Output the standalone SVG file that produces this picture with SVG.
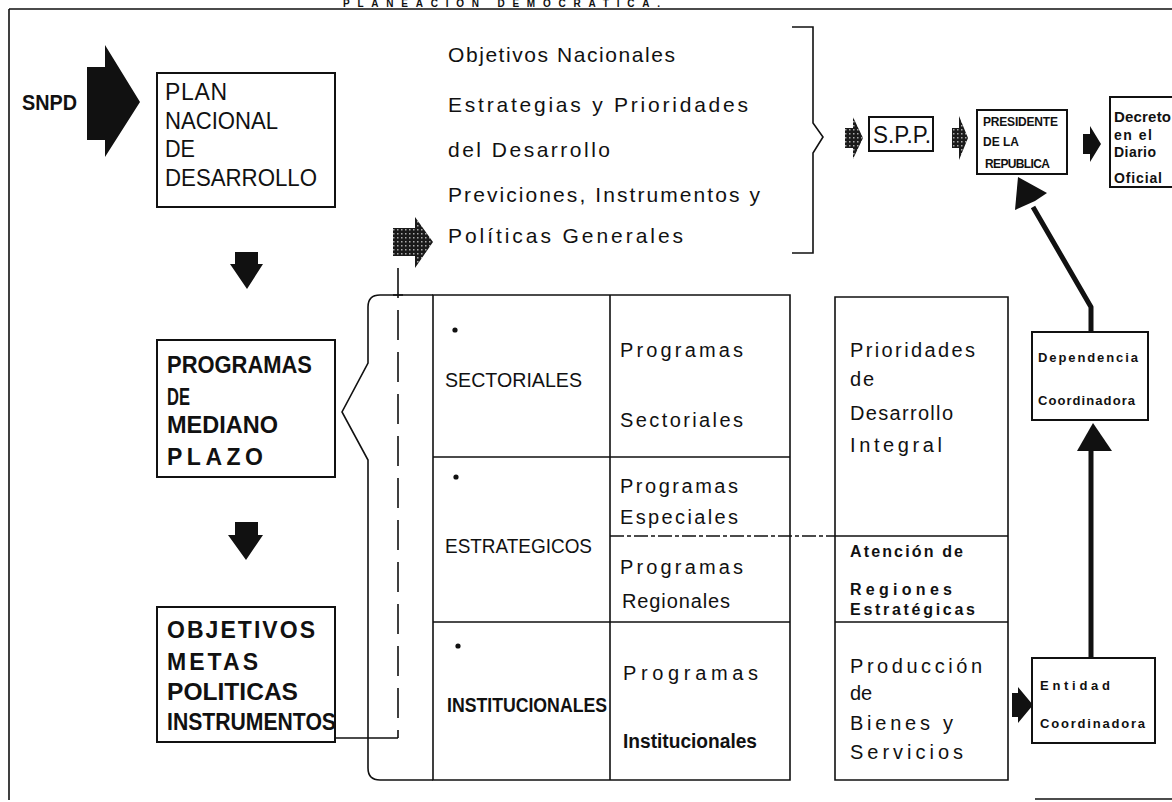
<svg xmlns="http://www.w3.org/2000/svg" width="1172" height="802" viewBox="0 0 1172 802">
<style>
.t{font-family:"Liberation Sans",Arial,sans-serif;fill:#111}
.b{font-weight:bold}
.box{fill:#fff;stroke:#111;stroke-width:2}
.ln{fill:none;stroke:#111;stroke-width:1.6}
.thick{fill:none;stroke:#111;stroke-width:5;stroke-linejoin:round}
.blk{fill:#111}
.hat{fill:url(#hatch)}
</style>
<defs>
<pattern id="hatch" width="4" height="4" patternUnits="userSpaceOnUse">
<rect width="4" height="4" fill="#1a1a1a"/>
<rect x="1" y="1" width="1.5" height="1.5" fill="#aaa"/>
</pattern>
</defs>
<rect width="1172" height="802" fill="#fff"/>

<g id="frame">
<text class="t b" x="343" y="7" font-size="10" textLength="317">PLANEACION DEMOCRATICA.</text>
<path class="ln" d="M9 9 H1172 M9 9 V800" stroke-width="2"/>
<line class="ln" x1="1035" y1="799" x2="1172" y2="799" stroke-width="2"/>
</g>

<g id="snpd">
<text class="t b" x="22" y="110" font-size="22" textLength="55" lengthAdjust="spacingAndGlyphs">SNPD</text>
</g>

<g id="plan">
<rect class="box" x="157" y="73" width="178" height="134"/>
<text class="t" x="165" y="100" font-size="23" textLength="62">PLAN</text>
<text class="t" x="165" y="129" font-size="23" textLength="113" lengthAdjust="spacingAndGlyphs">NACIONAL</text>
<text class="t" x="165" y="157" font-size="23" textLength="30" lengthAdjust="spacingAndGlyphs">DE</text>
<text class="t" x="165" y="186" font-size="23" textLength="152" lengthAdjust="spacingAndGlyphs">DESARROLLO</text>
</g>

<g id="programas">
<rect class="box" x="157" y="340" width="178" height="137"/>
<text class="t b" x="167" y="373" font-size="23" textLength="145" lengthAdjust="spacingAndGlyphs">PROGRAMAS</text>
<text class="t b" x="167" y="405" font-size="23" textLength="23" lengthAdjust="spacingAndGlyphs">DE</text>
<text class="t b" x="167" y="433" font-size="23" textLength="111" lengthAdjust="spacingAndGlyphs">MEDIANO</text>
<text class="t b" x="167" y="465" font-size="23" textLength="96">PLAZO</text>
</g>

<g id="objetivos">
<rect class="box" x="157" y="607" width="178" height="135"/>
<text class="t b" x="167" y="638" font-size="23" textLength="148">OBJETIVOS</text>
<text class="t b" x="167" y="670" font-size="23" textLength="91">METAS</text>
<text class="t b" x="167" y="700" font-size="23" textLength="131" lengthAdjust="spacingAndGlyphs">POLITICAS</text>
<text class="t b" x="167" y="730" font-size="23" textLength="169" lengthAdjust="spacingAndGlyphs">INSTRUMENTOS</text>
</g>

<g id="contenido-plan">
<text class="t" x="448" y="62" font-size="21" textLength="227">Objetivos Nacionales</text>
<text class="t" x="448" y="112" font-size="21" textLength="300">Estrategias y Prioridades</text>
<text class="t" x="448" y="157" font-size="21" textLength="162">del Desarrollo</text>
<text class="t" x="448" y="202" font-size="21" textLength="312">Previciones, Instrumentos y</text>
<text class="t" x="448" y="243" font-size="21" textLength="235">Políticas Generales</text>
<path class="ln" d="M792 27 H813 V123 L823 137 L813 153 V253 H792"/>
</g>

<g id="spp">
<rect class="box" x="869" y="117" width="64" height="34"/>
<text class="t" x="873" y="143" font-size="23" textLength="58" lengthAdjust="spacingAndGlyphs">S.P.P.</text>
</g>

<g id="presidente">
<rect class="box" x="977" y="110" width="90" height="64"/>
<text class="t b" x="983" y="126" font-size="12" textLength="75">PRESIDENTE</text>
<text class="t b" x="983" y="146" font-size="12" textLength="36">DE LA</text>
<text class="t b" x="985" y="168" font-size="12" textLength="65">REPUBLICA</text>
</g>

<g id="decreto">
<rect class="box" x="1110" y="97" width="70" height="90"/>
<text class="t b" x="1114" y="122" font-size="15" textLength="57">Decreto</text>
<text class="t b" x="1114" y="140" font-size="14" textLength="38">en el</text>
<text class="t b" x="1114" y="157" font-size="14" textLength="42">Diario</text>
<text class="t b" x="1114" y="183" font-size="14" textLength="48">Oficial</text>
</g>

<g id="tabla-programas">
<path class="ln" d="M433 295 H790 V780 H433 Z M610 295 V780 M433 457 H790 M433 622 H790"/>
<path class="ln" d="M610 536 H835" stroke="#444" stroke-dasharray="14 3 4 3"/>
<circle class="blk" cx="455" cy="330" r="2.6"/>
<circle class="blk" cx="456" cy="477" r="2.6"/>
<circle class="blk" cx="458" cy="646" r="2.6"/>
<text class="t" x="445" y="387" font-size="21" textLength="137" lengthAdjust="spacingAndGlyphs">SECTORIALES</text>
<text class="t" x="445" y="553" font-size="21" textLength="147" lengthAdjust="spacingAndGlyphs">ESTRATEGICOS</text>
<text class="t b" x="447" y="712" font-size="21" textLength="160" lengthAdjust="spacingAndGlyphs">INSTITUCIONALES</text>
<text class="t" x="620" y="357" font-size="20" textLength="123">Programas</text>
<text class="t" x="620" y="427" font-size="20" textLength="123">Sectoriales</text>
<text class="t" x="620" y="493" font-size="20" textLength="118">Programas</text>
<text class="t" x="620" y="524" font-size="20" textLength="118">Especiales</text>
<text class="t" x="620" y="574" font-size="20" textLength="123">Programas</text>
<text class="t" x="622" y="608" font-size="20" textLength="108">Regionales</text>
<text class="t" x="623" y="680" font-size="20" textLength="135">Programas</text>
<text class="t" x="623" y="748" font-size="20" textLength="134" font-weight="bold" lengthAdjust="spacingAndGlyphs">Institucionales</text>
</g>

<g id="tabla-prioridades">
<path class="ln" d="M835 297 H1008 V780 H835 Z M835 536 H1008 M835 622 H1008"/>
<text class="t" x="850" y="357" font-size="20" textLength="125">Prioridades</text>
<text class="t" x="850" y="386" font-size="20" textLength="24">de</text>
<text class="t" x="850" y="420" font-size="20" textLength="103">Desarrollo</text>
<text class="t" x="850" y="452" font-size="20" textLength="92">Integral</text>
<text class="t b" x="850" y="557" font-size="16" textLength="113">Atención de</text>
<text class="t b" x="850" y="595" font-size="16" textLength="102">Regiones</text>
<text class="t b" x="850" y="615" font-size="16" textLength="125">Estratégicas</text>
<text class="t" x="850" y="673" font-size="20" textLength="132">Producción</text>
<text class="t" x="850" y="700" font-size="20" textLength="22">de</text>
<text class="t" x="850" y="730" font-size="20" textLength="103">Bienes  y</text>
<text class="t" x="850" y="759" font-size="20" textLength="113">Servicios</text>
</g>

<g id="dependencia">
<rect class="box" x="1032" y="332" width="116" height="88"/>
<text class="t b" x="1038" y="362" font-size="13" textLength="100">Dependencia</text>
<text class="t b" x="1038" y="405" font-size="13" textLength="97">Coordinadora</text>
</g>

<g id="entidad">
<rect class="box" x="1032" y="658" width="123" height="85"/>
<text class="t b" x="1040" y="690" font-size="13" textLength="70">Entidad</text>
<text class="t b" x="1040" y="728" font-size="13" textLength="105">Coordinadora</text>
</g>

<g id="connectors">
<polygon class="blk" points="87,67 105,67 105,45 140,102 105,157 105,140 87,140"/>
<polygon class="blk" points="235,252 258,252 258,264 263,264 247,289 230,264 235,264"/>
<polygon class="blk" points="235,522 258,522 258,535 263,535 246,560 228,535 235,535"/>
<polygon class="hat" points="393,228 415,228 415,217 433,242 415,268 415,256 393,256"/>
<path class="ln" d="M398 268 V738" stroke-dasharray="30 12"/>
<path class="ln" d="M398 738 H335 M393 295 H403"/>
<path class="ln" d="M433 295 H380 Q368 295 368 307 V363 L342 412 L368 460 V768 Q368 780 380 780 H433"/>
<polygon class="hat" points="845,128 853,128 853,117 863,138 853,159 853,148 845,148"/>
<polygon class="hat" points="952,128 959,128 959,116 968,138 959,160 959,148 952,148"/>
<polygon class="blk" points="1083,134 1090,134 1090,126 1101,144 1090,162 1090,154 1083,154"/>
<polygon class="blk" points="1012,693 1018,693 1018,687 1033,705 1018,723 1018,717 1012,717"/>
<path class="thick" d="M1091 658 V448"/>
<polygon class="blk" points="1093,423 1112,451 1077,451"/>
<path class="thick" d="M1091 332 V307 L1033 207"/>
<polygon class="blk" points="1018,177 1047,193 1035,201 1015,210"/>
</g>
</svg>
